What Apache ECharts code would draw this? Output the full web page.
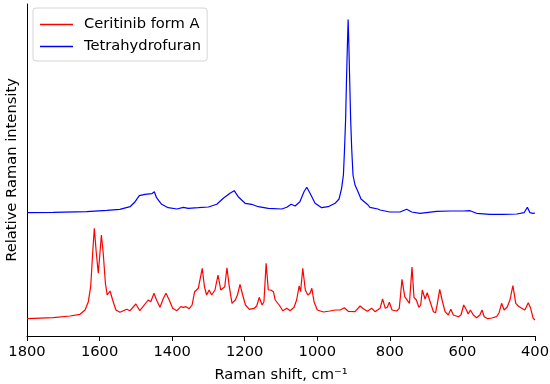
<!DOCTYPE html>
<html>
<head>
<meta charset="utf-8">
<script src="https://cdn.jsdelivr.net/npm/echarts@6/dist/echarts.min.js"></script>
<style>html,body{margin:0;padding:0;background:#fff;}#c{width:550px;height:384px;}</style>
</head>
<body>
<div id="c"></div>
<script>
const seriesNames = ['Ceritinib form A', 'Tetrahydrofuran'];
const xTicks = [1800, 1600, 1400, 1200, 1000, 800, 600, 400];

const redShift = [1800,1727.5,1681.5,1654,1640,1631,1624.5,1619,1614.5,1609,1603.5,1599,1595,1590,1584,1579,1571,1564,1555,1544,1525,1516,1500,1489,1466,1459,1450,1443,1433.5,1424,1417,1408,1398.5,1387,1376,1369,1362,1353,1345,1338,1328,1323,1317,1311,1305,1298,1291,1282,1273.6,1266,1255,1249,1242.5,1235,1226,1220,1213,1205.6,1198,1187,1174,1167,1160,1152,1147,1141,1135,1128,1121,1116,1105,1095,1084,1075,1064,1057,1050,1046,1040,1033,1026,1020,1015,1009,1000,983,965,951,937,925.6,914.5,896,882,873,862,850,841,827,820,812.6,807,801.5,794,781,774,766.5,759,753.6,746,739,733.5,727,720,715,710.6,703,697,689,680,674,669,662.6,656,648,639,632,625,611,604,596.5,589,584,578,570,561,552,546,540,530,519,506,499,492,485,477,469,461,453,446,437,428,418.5,412,405,400];
const redIntensity = [17.3,18.3,20,21.7,26,34.3,49.3,83,107.7,83,62.7,83,101,83,53,41,45,36,26,23.7,26.7,25.3,32,25.3,36,34.3,42.7,36,28.7,37.7,42.7,36,27.7,25.3,29.3,28.7,29.3,27.3,31,44.3,47.7,49.3,67.7,49.3,41,46,41,46,61,46,49.3,68.3,49.3,32.7,36,41,51.7,41,31,26.7,27.7,30,38.7,31,34.3,72.7,46,46,44.3,36,31,25.3,27.7,25.3,28.7,36,50,44.3,67.7,46,41,42.7,47.7,34.3,26,24,25,26,26,28.3,24.7,24.3,30,27.3,24.7,27.7,24.3,27.7,37,27.7,28.7,33.7,26,25,27.7,56.7,39.3,37.7,32.7,69,38.7,36,28.7,31,46,37,43.3,34.3,24.3,23.3,32.7,46.7,36,24.3,21,26.7,21,19.3,21,31,26,22,26,21,18.3,21,26,19.3,17.3,18,19.3,23.3,32.7,26,28.7,36,50.3,32.7,30,27.7,26,33.3,27.7,17.7,16];

const blueShift = [1800,1727.5,1635.5,1580,1544,1516,1502,1490.5,1475,1456,1449,1443,1429,1411,1387,1369,1355.5,1328,1300,1277,1259,1240.6,1229,1218,1199,1181,1162.6,1135,1098,1084,1072,1061,1048,1036.6,1029,1020,1006,988,970,951,940,933,928,925,922,919.5,917,915,913,910.7,908,905,901.6,896,888.6,879.5,860,855,833,827,800,772,753.6,740,717,671,634,597.6,579,561,524,487,450,430,421,414,405,400];
const blueIntensity = [123.3,123.7,124.3,125.7,126.7,129.3,134.3,140.3,141.7,142.3,144.3,138.3,131.7,128.3,127,128.7,127.7,128.3,129,131.7,137.7,142.7,145.3,139.3,132.7,131.7,129.3,127.7,127,128.7,131.7,130,134.3,144.3,148.7,142.7,132.7,128.3,129.3,132.7,137,147.7,161,186,216,256,291,316.5,291,256,216,186,161,151,145,137,131,128.7,127,126,124,124,126.7,124,122.7,124.7,125,125,125.3,122.7,121.7,121.7,122,123.3,128.7,123.3,122.7,123];

const zip = (a, b) => a.map((v, i) => [v, b[i]]);

const chart = echarts.init(document.getElementById('c'), null, {renderer: 'canvas'});
const font = 'DejaVu Sans';
const fs = 14.7;
chart.setOption({
  animation: false,
  backgroundColor: '#ffffff',
  grid: {left: 27, right: 15, top: 4, bottom: 48, containLabel: false, outerBoundsMode: 'none'},
  legend: {
    orient: 'vertical',
    left: 33, top: 8,
    padding: [9, 6, 7, 7],
    icon: 'rect',
    itemWidth: 33, itemHeight: 1.5, itemGap: 7,
    borderColor: '#d5d5d5', borderWidth: 1, borderRadius: 3,
    backgroundColor: 'rgba(255,255,255,0.8)',
    textStyle: {fontFamily: font, fontSize: fs, lineHeight: 15, color: '#000', padding: [0, 0, 0, 6]},
    data: seriesNames
  },
  xAxis: {
    type: 'value', inverse: true, min: 400, max: 1800, interval: 200,
    name: 'Raman shift, cm\u207B\u00B9', nameLocation: 'middle', nameGap: 32,
    nameTextStyle: {fontFamily: font, fontSize: fs, color: '#000'},
    axisLine: {show: true, lineStyle: {color: '#000', width: 1}},
    axisTick: {show: true, length: 5, inside: false, lineStyle: {color: '#000'}},
    axisLabel: {fontFamily: font, fontSize: fs, color: '#000', margin: 9,
      formatter: v => xTicks.indexOf(v) >= 0 ? String(v) : ''},
    splitLine: {show: false}
  },
  yAxis: {
    type: 'value', min: 0, max: 332,
    name: 'Relative Raman intensity', nameLocation: 'middle', nameGap: 7,
    nameTextStyle: {fontFamily: font, fontSize: fs, color: '#000'},
    axisLine: {show: true, lineStyle: {color: '#000', width: 1}},
    axisTick: {show: false}, axisLabel: {show: false}, splitLine: {show: false}
  },
  series: [
    {name: seriesNames[0], type: 'line', data: zip(redShift, redIntensity), showSymbol: false, symbol: 'none',
      lineStyle: {color: '#ff0000', width: 1.2}, itemStyle: {color: '#ff0000'}},
    {name: seriesNames[1], type: 'line', data: zip(blueShift, blueIntensity), showSymbol: false, symbol: 'none',
      lineStyle: {color: '#0000ff', width: 1.2}, itemStyle: {color: '#0000ff'}}
  ]
});
</script>
</body>
</html>
